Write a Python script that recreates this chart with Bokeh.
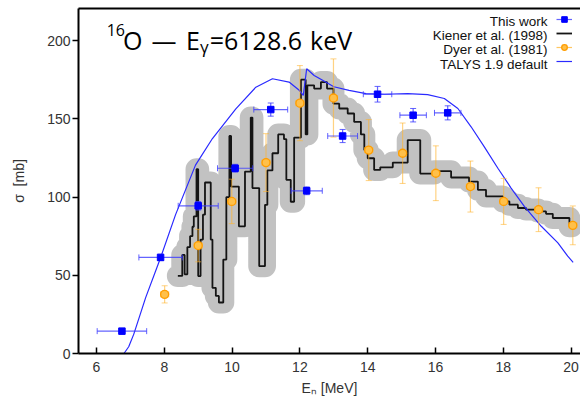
import math
from bokeh.plotting import figure
from bokeh.models import (ColumnDataSource, Range1d, LinearAxis, SingleIntervalTicker,
                          FixedTicker, Label, Legend, LegendItem)
from bokeh.core.properties import value
from bokeh.embed import file_html
from bokeh.resources import INLINE

# ---------------- data ----------------
# This work
tw_e = [6.75, 7.89, 9.00, 10.09, 11.14, 12.20, 13.26, 14.29, 15.34, 16.36]
tw_de = [0.73, 0.64, 0.59, 0.52, 0.50, 0.46, 0.44, 0.42, 0.39, 0.39]
tw_sig = [14.3, 61.4, 94.4, 118.4, 155.9, 104.0, 139.0, 165.7, 152.3, 153.8]
tw_dsig = [1.5, 2.0, 2.7, 2.5, 4.2, 2.5, 4.2, 5.0, 4.3, 4.5]

# Dyer et al. (1981)
dy_e = [8.01, 9.00, 9.99, 11.00, 12.00, 12.99, 14.03, 15.03, 16.01, 17.03, 18.01, 19.04, 20.05]
dy_de = [0.12, 0.12, 0.12, 0.12, 0.12, 0.12, 0.12, 0.12, 0.12, 0.12, 0.12, 0.12, 0.12]
dy_sig = [37.8, 69.0, 97.2, 122.0, 160.0, 163.3, 130.0, 128.0, 115.2, 106.7, 97.2, 91.9, 81.9]
dy_dsig = [5.5, 10.4, 14.2, 18.5, 24.0, 25.0, 19.5, 19.3, 17.5, 16.3, 14.7, 14.0, 12.4]

# Kiener et al. (1998) histogram: bin edges and values
ki_edges = [8.40, 8.53, 8.60, 8.68, 8.76, 8.83, 8.87, 8.95, 9.00, 9.07, 9.14, 9.20, 9.37,
            9.42, 9.52, 9.61, 9.74, 9.83, 9.92, 9.97, 10.20, 10.38, 10.55, 10.60, 10.80,
            10.97, 11.04, 11.19, 11.36, 11.53, 11.60, 11.73, 11.83, 12.03, 12.17, 12.22,
            12.42, 12.62, 12.80, 12.99, 13.16, 13.41, 13.60, 13.80, 13.90, 14.00, 14.19,
            14.37, 14.74, 15.18, 15.55, 15.96, 16.46, 16.99, 17.25, 17.49, 17.99, 18.18,
            18.43, 18.67, 19.02, 19.26, 19.46, 19.95, 20.02]
ki_val = [49.6, 63.0, 50.6, 68.0, 75.0, 81.0, 87.6, 117.8, 49.5, 72.8, 88.7, 109.3, 72.8,
          42.0, 36.8, 32.6, 60.0, 100.0, 139.0, 106.7, 81.3, 116.3, 150.8, 105.7, 55.8,
          95.0, 117.0, 128.0, 140.0, 137.0, 111.0, 97.0, 138.0, 175.0, 140.0, 171.4,
          169.3, 173.5, 169.3, 159.7, 156.6, 153.4, 148.0, 140.0, 130.0, 124.8, 117.3,
          119.0, 122.0, 136.4, 115.0, 116.5, 112.5, 109.9, 104.6, 100.4, 97.2, 95.1,
          93.0, 92.0, 90.8, 89.3, 86.6, 81.3]

# TALYS 1.9 default
ta_e = [6.81, 6.95, 7.10, 7.45, 7.89, 8.33, 8.92, 9.42, 10.11, 10.70, 11.19, 11.68, 11.98,
        12.10, 12.20, 12.42, 12.67, 13.00, 13.45, 13.95, 14.49, 15.18, 15.77, 16.26, 16.66,
        17.05, 17.44, 17.84, 18.23, 18.62, 19.12, 19.61, 19.90, 20.06]
ta_sig = [0.0, 4.3, 12.4, 35.7, 61.2, 88.6, 120.4, 137.4, 156.4, 170.2, 175.6, 173.5, 168.2,
          165.0, 182.0, 177.7, 174.6, 170.5, 168.2, 166.1, 165.7, 166.1, 165.5, 163.0, 156.6,
          144.9, 132.1, 118.4, 105.7, 94.0, 81.3, 70.7, 62.2, 58.2]

legend_labels = ["This work", "Kiener et al. (1998)", "Dyer et al. (1981)", "TALYS 1.9 default"]
x_ticks_interval = 2
y_ticks_interval = 50

# ---------------- figure ----------------
p = figure(width=580, height=398, x_range=Range1d(5.469, 20.277), y_range=Range1d(0, 220.5),
           output_backend="svg", toolbar_location=None,
           min_border_left=78, min_border_right=0, min_border_top=8, min_border_bottom=43)
p.outline_line_color = None
p.xgrid.visible = False
p.ygrid.visible = False
p.background_fill_color = "white"
p.border_fill_color = "white"

tick_font = "Liberation Sans"
for ax in (p.xaxis[0], p.yaxis[0]):
    ax.axis_line_width = 2
    ax.axis_line_color = "black"
    ax.major_tick_line_width = 1.5
    ax.major_tick_line_color = "black"
    ax.minor_tick_line_color = None
    ax.major_label_text_font = tick_font
    ax.major_label_text_font_size = "14px"
    ax.major_label_text_color = "#333333"
    ax.axis_label_text_font = tick_font
    ax.axis_label_text_font_size = "14px"
    ax.axis_label_text_font_style = "normal"
    ax.axis_label_text_color = "#333333"

p.xaxis[0].ticker = SingleIntervalTicker(interval=x_ticks_interval)
p.xaxis[0].major_tick_in = 6
p.xaxis[0].major_tick_out = 0
p.xaxis[0].major_label_standoff = 4
p.xaxis[0].axis_label = "E\u2099 [MeV]"
p.xaxis[0].axis_label_standoff = 5

p.yaxis[0].ticker = SingleIntervalTicker(interval=y_ticks_interval)
p.yaxis[0].major_tick_in = 0
p.yaxis[0].major_tick_out = 6
p.yaxis[0].major_label_standoff = 2
p.yaxis[0].axis_label = "σ\u00a0\u00a0[mb]"
p.yaxis[0].axis_label_standoff = 17

top_axis = LinearAxis(ticker=FixedTicker(ticks=[]), major_tick_in=0, major_tick_out=0,
                      minor_tick_in=0, minor_tick_out=0, major_label_standoff=0,
                      axis_line_width=2, axis_line_color="black")
p.add_layout(top_axis, "above")

# ---------------- Kiener step histogram ----------------
kx, ky = [], []
for i, v in enumerate(ki_val):
    kx += [ki_edges[i], ki_edges[i + 1]]
    ky += [v, v]
ki_src = ColumnDataSource(dict(x=kx, y=ky))
p.line("x", "y", source=ki_src, line_color="#c2c2c2", line_width=22,
       line_join="round", line_cap="round")
ki_line = p.line("x", "y", source=ki_src, line_color="#141414", line_width=1.8)

# ---------------- TALYS ----------------
ta_line = p.line(ta_e, ta_sig, line_color="#2a2aff", line_width=1.2)

# ---------------- Dyer ----------------
dy_src = ColumnDataSource(dict(
    e=dy_e, s=dy_sig,
    xlo=[e - d for e, d in zip(dy_e, dy_de)], xhi=[e + d for e, d in zip(dy_e, dy_de)],
    ylo=[s - d for s, d in zip(dy_sig, dy_dsig)], yhi=[s + d for s, d in zip(dy_sig, dy_dsig)]))
dy_col = "#ffb42e"
dy_h = p.segment(x0="xlo", x1="xhi", y0="s", y1="s", source=dy_src, line_color=dy_col,
                 line_alpha=0.75, line_width=1.2)
p.segment(x0="e", x1="e", y0="ylo", y1="yhi", source=dy_src, line_color=dy_col,
          line_alpha=0.6, line_width=1.2)
p.scatter(x="e", y="ylo", source=dy_src, marker="dash", size=6, line_color=dy_col, line_alpha=0.6)
p.scatter(x="e", y="yhi", source=dy_src, marker="dash", size=6, line_color=dy_col, line_alpha=0.6)
p.scatter(x="xlo", y="s", source=dy_src, marker="dash", angle=math.pi / 2, size=6,
          line_color=dy_col, line_alpha=0.75)
p.scatter(x="xhi", y="s", source=dy_src, marker="dash", angle=math.pi / 2, size=6,
          line_color=dy_col, line_alpha=0.75)
dy_pt = p.scatter(x="e", y="s", source=dy_src, marker="circle", size=8,
                  fill_color="#ffc04a", line_color="#ff9d00", line_width=1.3)

# ---------------- This work ----------------
tw_src = ColumnDataSource(dict(
    e=tw_e, s=tw_sig,
    xlo=[e - d for e, d in zip(tw_e, tw_de)], xhi=[e + d for e, d in zip(tw_e, tw_de)],
    ylo=[s - d for s, d in zip(tw_sig, tw_dsig)], yhi=[s + d for s, d in zip(tw_sig, tw_dsig)]))
tw_col = "#3c3cff"
tw_h = p.segment(x0="xlo", x1="xhi", y0="s", y1="s", source=tw_src, line_color=tw_col,
                 line_alpha=0.8, line_width=1.2)
p.segment(x0="e", x1="e", y0="ylo", y1="yhi", source=tw_src, line_color=tw_col,
          line_alpha=0.8, line_width=1.2)
p.scatter(x="e", y="ylo", source=tw_src, marker="dash", size=6, line_color=tw_col, line_alpha=0.8)
p.scatter(x="e", y="yhi", source=tw_src, marker="dash", size=6, line_color=tw_col, line_alpha=0.8)
p.scatter(x="xlo", y="s", source=tw_src, marker="dash", angle=math.pi / 2, size=6,
          line_color=tw_col, line_alpha=0.8)
p.scatter(x="xhi", y="s", source=tw_src, marker="dash", angle=math.pi / 2, size=6,
          line_color=tw_col, line_alpha=0.8)
tw_pt = p.scatter(x="e", y="s", source=tw_src, marker="square", size=6.5,
                  fill_color="#0000ff", line_color="#0000ff")

# ---------------- legend (samples on the right of the text) ----------------
legend = Legend(items=[LegendItem(label=value(" "), renderers=[tw_h, tw_pt]),
                       LegendItem(label=value(" "), renderers=[ki_line]),
                       LegendItem(label=value(" "), renderers=[dy_h, dy_pt]),
                       LegendItem(label=value(" "), renderers=[ta_line])],
                location=(478, 285), orientation="vertical", glyph_width=16, glyph_height=14,
                label_width=0, label_height=0, label_standoff=0, label_text_font_size="1px",
                spacing=0, padding=0, margin=0, border_line_color=None,
                background_fill_alpha=0)
p.add_layout(legend, "center")

leg_y = [212.4, 203.3, 194.4, 184.9]
for txt, yy in zip(legend_labels, leg_y):
    p.add_layout(Label(x=19.304, y=yy, text=txt, text_align="right", text_baseline="middle",
                       text_font=tick_font, text_font_size="13.5px", text_color="#111111"))

# ---------------- title ----------------
tfont = "Open Sans"
ty = 200.4
p.add_layout(Label(x=6.30, y=ty + 6.3, text="16", text_font=tfont, text_font_size="16px",
                   text_baseline="alphabetic", text_color="black"))
p.add_layout(Label(x=6.78, y=ty, text="O", text_font=tfont, text_font_size="25px",
                   text_baseline="alphabetic", text_color="black"))
p.add_layout(Label(x=7.62, y=ty, text="—", text_font=tfont, text_font_size="25px",
                   text_baseline="alphabetic", text_color="black"))
p.add_layout(Label(x=8.64, y=ty, text="E", text_font=tfont, text_font_size="25px",
                   text_baseline="alphabetic", text_color="black"))
p.add_layout(Label(x=9.05, y=ty - 4.0, text="γ", text_font=tfont, text_font_size="17px",
                   text_baseline="alphabetic", text_color="black"))
p.add_layout(Label(x=9.34, y=ty, text="=6128.6", text_font=tfont, text_font_size="25px",
                   text_baseline="alphabetic", text_color="black"))
p.add_layout(Label(x=12.30, y=ty, text="keV", text_font=tfont, text_font_size="25px",
                   text_baseline="alphabetic", text_color="black"))

open("out.html", "w").write(file_html(p, INLINE))
